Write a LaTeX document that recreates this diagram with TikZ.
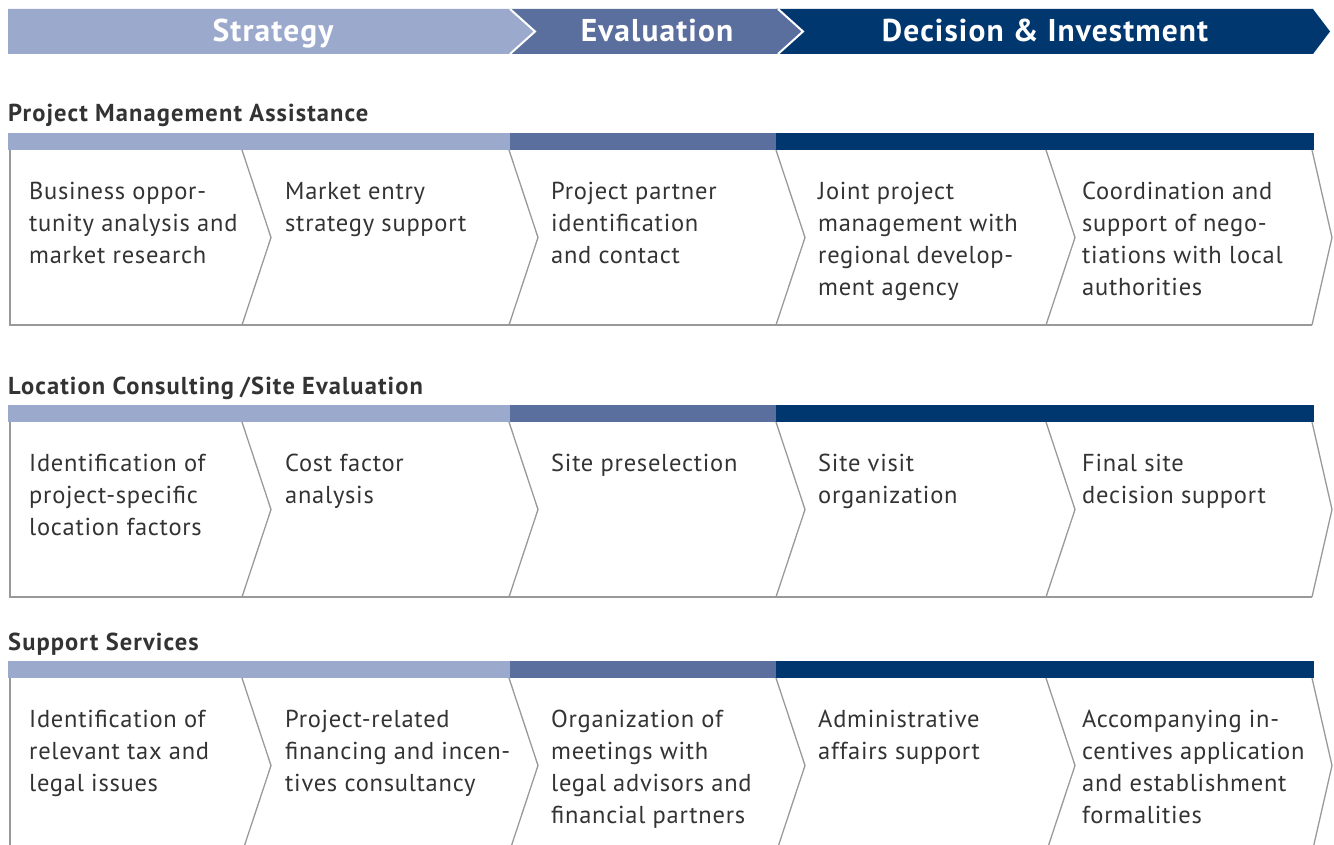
\documentclass[tikz,border=0pt]{standalone}
\usepackage{fontspec}
\setmainfont{PT Sans}
\newfontfamily\cellfont[LetterSpace=3]{PT Sans}
\newfontfamily\hdrfont[LetterSpace=3.5]{PT Sans}
\newfontfamily\ttlfont[LetterSpace=4.5]{PT Sans}
\definecolor{lightc}{HTML}{9BA9CC}
\definecolor{midc}{HTML}{5B6F9F}
\definecolor{darkc}{HTML}{00376F}
\definecolor{linec}{HTML}{999999}
\definecolor{txtc}{HTML}{333333}
\newcommand\svcrow[8]{%
\begin{scope}[shift={(0,#1)}]
 \node[ttl] (#2-t) at (8,-11) {#3};
 \fill[lightc] (8,0) rectangle (510,17);
 \fill[midc] (510,0) rectangle (776,17);
 \fill[darkc] (776,0) rectangle (1314,17);
 \draw[frame] (10,17) -- (10,192) -- (1312,192);
 \foreach \x/\d in {242/29,509/29,776/29,1046/29,1312/20}
   \draw[frame] (\x,17) -- (\x+\d,104.5) -- (\x,192);
 \node[cell] (#2-1) at (29,43.6) {\strut #4};
 \node[cell] (#2-2) at (285,43.6) {\strut #5};
 \node[cell] (#2-3) at (551,43.6) {\strut #6};
 \node[cell] (#2-4) at (818,43.6) {\strut #7};
 \node[cell] (#2-5) at (1082,43.6) {\strut #8};
\end{scope}}
\begin{document}
\begin{tikzpicture}[x=1pt,y=-1pt,
 hdr/.style={font=\hdrfont\fontsize{31.5}{31.5}\selectfont\bfseries, text=white, inner sep=0, anchor=base},
 ttl/.style={font=\ttlfont\fontsize{24.5}{28}\selectfont\bfseries, text=txtc, inner sep=0, anchor=base west},
 cell/.style={font=\cellfont\fontsize{24.5}{32}\selectfont, text=txtc, inner sep=0, anchor=north west, align=left},
 frame/.style={draw=linec, line width=1.3pt, line join=miter}]
\useasboundingbox (0,0) rectangle (1334,845);
\clip (0,0) rectangle (1334,845);
% header banner
\fill[darkc] (776,9) -- (1313,9) -- (1330,31.5) -- (1313,54) -- (776,54) -- cycle;
\fill[midc] (510,9) -- (778,9) -- (803,31.5) -- (778,54) -- (510,54) -- cycle;
\draw[white, line width=2pt] (778,9) -- (803,31.5) -- (778,54);
\fill[lightc] (8,9) -- (510,9) -- (535,31.5) -- (510,54) -- (8,54) -- cycle;
\draw[white, line width=2pt] (510,9) -- (535,31.5) -- (510,54);
\node[hdr] (h1) at (273,42) {Strategy};
\node[hdr] (h2) at (657,42) {Evaluation};
\node[hdr] (h3) at (1045,42) {Decision \& Investment};
% rows
\svcrow{133}{pma}{Project Management Assistance}
 {Business oppor-\\tunity analysis and\\market research}
 {Market entry\\strategy support}
 {Project partner\\identification\\and contact}
 {Joint project\\management with\\regional develop-\\ment agency}
 {Coordination and\\support of nego-\\tiations with local\\authorities}
\svcrow{405}{lcs}{Location Consulting\hspace{6pt}/Site Evaluation}
 {Identification of\\project-specific\\location factors}
 {Cost factor\\analysis}
 {Site preselection}
 {Site visit\\organization}
 {Final site\\decision support}
\svcrow{661}{sup}{Support Services}
 {Identification of\\relevant tax and\\legal issues}
 {Project-related\\financing and incen-\\tives consultancy}
 {Organization of\\meetings with\\legal advisors and\\financial partners}
 {Administrative\\affairs support}
 {Accompanying in-\\centives application\\and establishment\\formalities}
\end{tikzpicture}
\end{document}
